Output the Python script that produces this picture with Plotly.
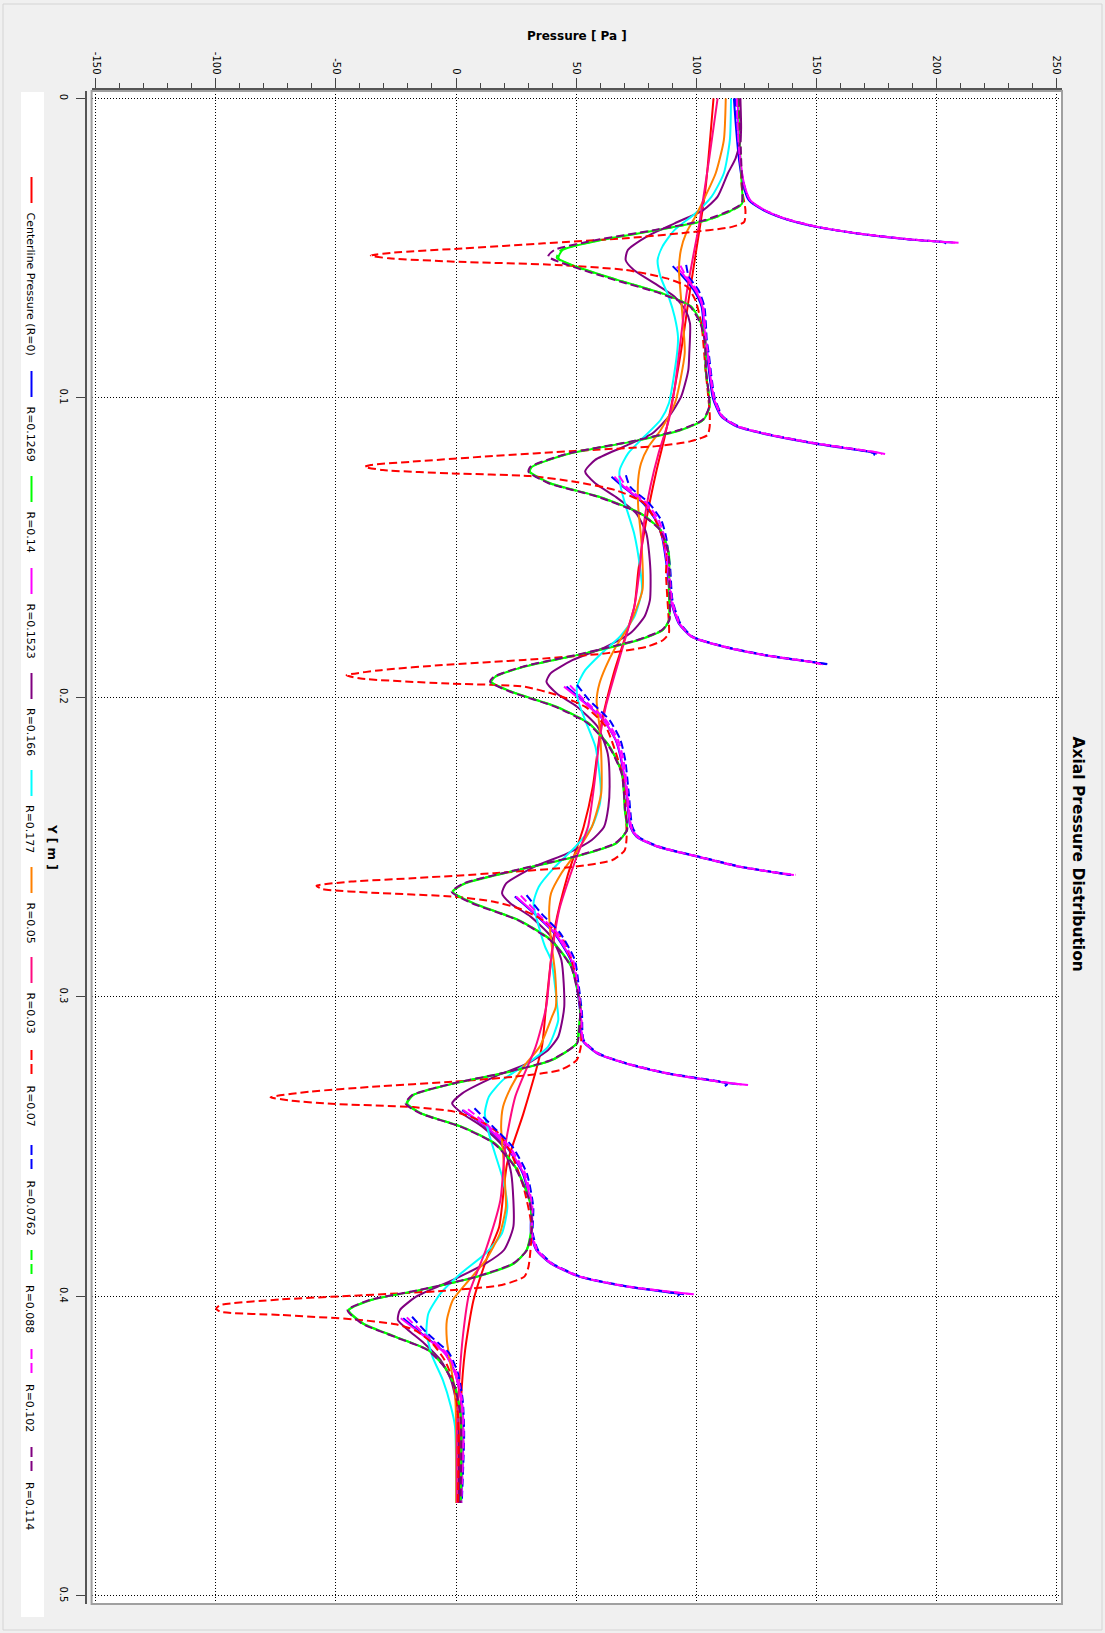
import plotly.graph_objects as go

# ---------------------------------------------------------------
# Axial pressure profiles: (Y [m], pressure [Pa]) pairs per radius.
# None separates line segments.
# ---------------------------------------------------------------
r_000 = [(0.0, 107.3), (0.0306, 103.9), (0.0528, 99.7), (0.0695, 96.5), (0.0807, 94.5), (0.0963, 91.2),
         (0.1129, 87.0), (0.1241, 83.6), (0.1408, 79.3), (0.1574, 76.0), (0.1697, 74.3), (0.192, 65.7),
         (0.2087, 60.6), (0.2298, 57.0), (0.2432, 53.2), (0.2598, 46.4), (0.2765, 41.3), (0.3033, 37.5),
         (0.3166, 35.8), (0.3389, 28.1), (0.3556, 21.3), (0.3767, 18.0), (0.3845, 14.1), (0.4012, 7.3),
         (0.4179, 3.8), (0.4346, 2.1), (0.469, 1.3)]

r_1269 = [(0.0, 115.8), (0.008, 116.5), (0.0195, 117.8), (0.0284, 119.5), (0.034, 122.0), (0.0373, 128.0),
          (0.0401, 136.5), (0.0429, 150.0), (0.0451, 167.0), (0.0471, 189.0), (0.0481, 207.0), None,
          (0.056, 90.3), (0.0595, 94.5), (0.064, 99.0), (0.0695, 102.3), (0.0807, 103.6), (0.0851, 104.5),
          (0.1, 107.0), (0.1062, 110.5), (0.1096, 117.0), (0.1124, 130.5), (0.1152, 149.0), (0.118, 172.0),
          (0.1186, 175.5), None,
          (0.1263, 64.8), (0.1296, 69.5), (0.1352, 78.0), (0.1408, 83.2), (0.1463, 85.8), (0.1574, 88.0),
          (0.1675, 89.4), (0.1753, 92.8), (0.1797, 98.0), (0.1831, 111.5), (0.1859, 128.5), (0.1881, 147.5),
          (0.1889, 154.5), None,
          (0.1964, 46.0), (0.2009, 52.5), (0.2076, 61.5), (0.2142, 66.5), (0.2209, 68.8), (0.232, 71.0),
          (0.2432, 72.6), (0.2465, 75.2), (0.2498, 83.7), (0.2532, 100.7), (0.2565, 117.7), (0.2587, 134.5),
          (0.2593, 139.5), None,
          (0.2665, 24.5), (0.2721, 32.5), (0.2788, 41.0), (0.2877, 47.8), (0.2966, 50.3), (0.3055, 51.8),
          (0.3144, 52.6), (0.3188, 58.6), (0.3222, 70.5), (0.3255, 87.5), (0.3283, 109.5), (0.3292, 117.5), None,
          (0.3378, 2.6), (0.3434, 12.5), (0.35, 21.0), (0.3589, 27.8), (0.3701, 31.2), (0.379, 31.2),
          (0.3845, 33.4), (0.389, 39.4), (0.3934, 51.3), (0.3968, 71.7), (0.3993, 95.0), None,
          (0.4073, -22.0), (0.4123, -14.5), (0.419, -4.5), (0.4257, -0.3), (0.4346, 2.2), (0.4457, 3.0),
          (0.469, 2.1)]

r_014 = [(0.0, 117.5), (0.01, 118.0), (0.02, 118.5), (0.0284, 119.0), (0.0351, 119.2), (0.0373, 115.0),
         (0.0406, 104.8), (0.0439, 84.4), (0.0473, 60.5), (0.0506, 44.4), (0.0534, 42.7), (0.0562, 50.3),
         (0.0606, 67.3), (0.0651, 86.0), (0.0695, 98.0), (0.0751, 102.2), (0.0807, 103.9), (0.0907, 104.0),
         (0.1029, 105.7), (0.1073, 103.1), (0.1107, 93.8), (0.1146, 73.4), (0.1185, 47.8), (0.123, 31.7),
         (0.1246, 30.8), (0.1285, 39.3), (0.133, 59.7), (0.1385, 76.8), (0.1441, 85.3), (0.1519, 88.7),
         (0.1641, 88.7), (0.1742, 88.7), (0.1775, 86.2), (0.1809, 75.9), (0.1853, 53.8), (0.1898, 28.3),
         (0.1931, 16.4), (0.1948, 14.7), (0.1981, 23.2), (0.2031, 41.9), (0.2087, 55.5), (0.2165, 64.1),
         (0.2254, 69.2), (0.2376, 70.3), (0.2443, 71.1), (0.2487, 66.9), (0.2532, 49.8), (0.2576, 26.0),
         (0.2621, 3.9), (0.2649, -1.2), (0.2687, 7.3), (0.2743, 26.0), (0.281, 39.6), (0.2899, 48.1),
         (0.3033, 51.9), (0.3111, 51.1), (0.3155, 50.3), (0.3211, 40.0), (0.3255, 19.6), (0.3289, -0.8),
         (0.3328, -17.8), (0.3356, -20.3), (0.3389, -14.4), (0.3434, 2.6), (0.3489, 16.2), (0.3567, 24.7),
         (0.3678, 30.7), (0.3767, 31.5), (0.3845, 29.4), (0.389, 24.3), (0.3934, 9.0), (0.3979, -14.9),
         (0.4012, -35.3), (0.4046, -44.6), (0.409, -38.7), (0.4135, -25.1), (0.4179, -11.5), (0.4235, -4.7),
         (0.4301, -0.4), (0.4401, 2.1), (0.469, 2.1)]

r_1523 = [(0.0, 117.5), (0.008, 117.5), (0.0195, 118.4), (0.0284, 120.0), (0.034, 122.6), (0.0373, 128.6),
          (0.0401, 137.0), (0.0429, 150.7), (0.0451, 167.7), (0.0471, 189.8), (0.0482, 209.4), None,
          (0.0562, 92.0), (0.0595, 95.4), (0.064, 99.7), (0.0695, 102.7), (0.0807, 103.9), (0.0851, 104.8),
          (0.1, 107.4), (0.1062, 110.8), (0.1096, 117.6), (0.1124, 131.2), (0.1152, 149.9), (0.118, 173.7),
          (0.1187, 178.8), None,
          (0.1263, 66.0), (0.1296, 69.9), (0.1352, 78.5), (0.1408, 83.5), (0.1463, 86.0), (0.1574, 88.3),
          (0.1675, 89.6), (0.1753, 93.0), (0.1797, 98.1), (0.1831, 111.7), (0.1859, 128.7), (0.1881, 147.4),
          (0.1889, 153.0), None,
          (0.1964, 45.0), (0.2009, 52.1), (0.2076, 61.5), (0.2142, 66.6), (0.2209, 69.0), (0.232, 71.1),
          (0.2432, 72.8), (0.2465, 75.4), (0.2498, 83.9), (0.2532, 100.9), (0.2565, 117.9), (0.2587, 134.9),
          (0.2593, 140.8), None,
          (0.2665, 25.0), (0.2721, 32.8), (0.2788, 41.3), (0.2877, 48.1), (0.2966, 50.5), (0.3055, 52.0),
          (0.3144, 52.8), (0.3188, 58.8), (0.3222, 70.7), (0.3255, 87.7), (0.3283, 109.8), (0.3294, 121.7), None,
          (0.3378, 3.0), (0.3434, 12.8), (0.35, 21.3), (0.3589, 28.1), (0.3701, 31.5), (0.379, 31.4),
          (0.3845, 33.6), (0.389, 39.6), (0.3934, 51.5), (0.3968, 71.9), (0.3993, 99.1), None,
          (0.4073, -23.0), (0.4123, -14.9), (0.419, -4.7), (0.4257, -0.4), (0.4346, 2.1), (0.4457, 3.0),
          (0.469, 2.0)]

r_0166 = [(0.0, 118.5), (0.01, 118.8), (0.0139, 118.5), (0.02, 116.5), (0.025, 113.3), (0.0328, 109.0),
          (0.0373, 103.0), (0.0417, 91.1), (0.0462, 79.3), (0.0506, 71.6), (0.054, 70.7), (0.0573, 74.1),
          (0.0617, 82.6), (0.0662, 91.1), (0.0706, 95.5), (0.0751, 97.5), (0.0851, 97.2), (0.0907, 96.8),
          (0.0996, 93.8), (0.1062, 88.7), (0.1118, 81.9), (0.1163, 69.9), (0.1207, 58.0), (0.1246, 53.8),
          (0.1285, 58.0), (0.133, 66.5), (0.1385, 75.0), (0.1452, 79.3), (0.1574, 81.0), (0.1675, 80.8),
          (0.1731, 78.5), (0.1786, 72.6), (0.1831, 62.4), (0.1875, 48.7), (0.192, 39.4), (0.1948, 37.7),
          (0.1987, 42.0), (0.2031, 50.4), (0.2098, 59.0), (0.2187, 63.2), (0.2298, 64.0), (0.2365, 63.5),
          (0.2432, 61.7), (0.2476, 56.6), (0.2521, 46.4), (0.2565, 32.8), (0.2621, 20.9), (0.2654, 19.2),
          (0.2687, 22.6), (0.2732, 31.1), (0.2799, 39.6), (0.2877, 43.9), (0.3033, 45.1), (0.3133, 42.6),
          (0.3177, 38.4), (0.3222, 29.8), (0.3266, 16.2), (0.3322, 2.6), (0.3356, -1.6), (0.3389, 2.6),
          (0.3434, 11.1), (0.35, 19.6), (0.3589, 23.0), (0.3767, 23.9), (0.3845, 20.0), (0.389, 12.4),
          (0.3945, -1.3), (0.4001, -16.6), (0.4046, -23.4), (0.4079, -24.2), (0.4112, -20.0), (0.4157, -13.2),
          (0.4213, -6.4), (0.4279, -2.1), (0.4368, 0.4), (0.469, 1.3)]

r_0177 = [(0.0, 114.6), (0.0139, 114.1), (0.025, 111.6), (0.0328, 106.5), (0.0384, 99.7), (0.0439, 91.1),
          (0.0495, 86.0), (0.054, 84.0), (0.0595, 85.2), (0.0662, 88.6), (0.0729, 91.1), (0.0796, 92.5),
          (0.0851, 92.1), (0.1018, 88.7), (0.1073, 85.3), (0.1129, 78.5), (0.1185, 71.7), (0.1241, 68.2),
          (0.1296, 68.6), (0.1363, 70.8), (0.1452, 74.2), (0.1574, 76.8), (0.1641, 77.5), (0.1731, 74.3),
          (0.1797, 68.3), (0.1853, 60.6), (0.1909, 53.8), (0.1964, 50.4), (0.2009, 50.8), (0.2076, 53.8),
          (0.2165, 58.1), (0.2298, 60.3), (0.2354, 60.0), (0.2432, 56.6), (0.2498, 49.8), (0.2565, 41.3),
          (0.2632, 34.5), (0.2687, 32.3), (0.2765, 34.5), (0.2832, 37.1), (0.2877, 39.6), (0.3033, 42.2),
          (0.3078, 42.6), (0.3166, 38.4), (0.3222, 29.8), (0.3277, 19.6), (0.3333, 13.7), (0.3389, 12.0),
          (0.3456, 13.7), (0.3522, 16.2), (0.3611, 19.6), (0.3701, 21.4), (0.379, 19.1), (0.3856, 12.4),
          (0.3923, 2.1), (0.399, -6.4), (0.4057, -11.5), (0.4123, -12.3), (0.4201, -9.8), (0.4279, -5.5),
          (0.4368, -2.1), (0.4435, -0.4), (0.469, 0.1)]

r_005 = [(0.0, 112.4), (0.0139, 111.6), (0.025, 108.2), (0.034, 103.1), (0.0395, 99.7), (0.045, 95.9),
         (0.0506, 93.7), (0.0573, 92.9), (0.0662, 93.7), (0.0751, 94.6), (0.0851, 95.3), (0.1018, 91.2),
         (0.1107, 85.3), (0.1163, 80.2), (0.1218, 77.1), (0.1274, 75.9), (0.1363, 75.9), (0.1474, 77.2),
         (0.1641, 77.7), (0.1753, 72.6), (0.1831, 66.6), (0.1898, 62.4), (0.1953, 59.8), (0.2009, 58.6),
         (0.2098, 59.8), (0.2209, 60.6), (0.232, 60.5), (0.2432, 56.6), (0.2521, 49.8), (0.2587, 43.9),
         (0.2654, 39.6), (0.2721, 38.8), (0.281, 39.6), (0.2921, 41.3), (0.3033, 41.6), (0.3066, 40.0),
         (0.3166, 34.9), (0.3233, 28.1), (0.33, 23.0), (0.3367, 19.6), (0.3434, 18.8), (0.3522, 19.6),
         (0.3634, 20.5), (0.3701, 20.8), (0.379, 18.3), (0.3879, 12.4), (0.3945, 5.5), (0.4012, -1.3),
         (0.4079, -3.8), (0.4146, -3.8), (0.4235, -2.1), (0.4324, -0.4), (0.4457, 0.1), (0.469, 0.1)]

r_003 = [(0.0, 109.0), (0.0195, 105.6), (0.0417, 101.4), (0.0528, 98.8), (0.064, 96.3), (0.074, 94.6),
         (0.0963, 91.2), (0.1073, 88.7), (0.1185, 84.4), (0.1296, 81.0), (0.1408, 78.5), (0.1574, 76.5),
         (0.1697, 74.3), (0.1864, 68.3), (0.2031, 62.4), (0.2142, 59.8), (0.2298, 57.5), (0.2432, 55.0),
         (0.2543, 49.8), (0.271, 43.0), (0.2877, 39.6), (0.3033, 37.6), (0.3166, 33.2), (0.3333, 24.7),
         (0.35, 20.5), (0.3678, 18.5), (0.3845, 12.4), (0.399, 5.5), (0.4123, 3.0), (0.429, 1.3),
         (0.4457, 0.4), (0.469, 0.4)]

r_007 = [(0.0, 117.5), (0.01, 118.0), (0.02, 118.5), (0.0306, 119.2), (0.0373, 120.6), (0.0412, 120.1),
         (0.0429, 115.0), (0.0448, 96.3), (0.0467, 70.7), (0.0484, 36.7), (0.0501, 2.7), (0.0515, -26.2),
         (0.0525, -35.5), (0.0534, -27.9), (0.0545, -0.7), (0.0556, 41.8), (0.0573, 70.7), (0.0601, 87.8),
         (0.0629, 96.3), (0.0673, 99.7), (0.0751, 102.2), (0.0907, 104.0), (0.1051, 105.7), (0.1096, 105.7),
         (0.1124, 104.8), (0.1146, 97.2), (0.1161, 83.6), (0.1177, 49.5), (0.1194, 15.5), (0.1213, -18.5),
         (0.1224, -35.5), (0.123, -38.0), (0.1241, -30.4), (0.1252, -1.5), (0.1261, 30.8), (0.128, 49.5),
         (0.1308, 66.5), (0.1352, 78.5), (0.143, 84.4), (0.1519, 87.8), (0.1586, 87.5), (0.1753, 88.7),
         (0.1786, 88.7), (0.1809, 86.2), (0.1831, 79.4), (0.1853, 62.4), (0.1875, 28.3), (0.1892, -5.7),
         (0.1909, -31.2), (0.1926, -45.6), (0.1937, -39.7), (0.1953, -5.7), (0.1964, 28.3), (0.1992, 42.0),
         (0.2031, 53.8), (0.2098, 62.4), (0.2254, 69.2), (0.232, 70.3), (0.2465, 71.1), (0.251, 70.3),
         (0.2543, 65.2), (0.2565, 49.8), (0.2587, 15.8), (0.2604, -18.2), (0.2615, -43.7), (0.2629, -58.1),
         (0.264, -55.6), (0.2652, -35.2), (0.2665, -1.2), (0.2682, 15.8), (0.2704, 26.0), (0.2743, 36.2),
         (0.281, 44.7), (0.2899, 49.0), (0.3033, 51.9), (0.3166, 52.0), (0.3211, 50.3), (0.3244, 43.5),
         (0.3266, 24.7), (0.3283, -0.8), (0.33, -34.8), (0.3316, -60.3), (0.3335, -77.3), (0.3346, -68.8),
         (0.3357, -51.8), (0.3368, -17.8), (0.3383, -0.8), (0.3411, 9.4), (0.3456, 17.9), (0.3522, 23.0),
         (0.3634, 28.1), (0.3767, 31.5), (0.3901, 30.2), (0.3934, 28.5), (0.3962, 19.1), (0.3981, -4.7),
         (0.3996, -38.7), (0.401, -72.7), (0.4029, -98.2), (0.404, -99.9), (0.4051, -98.2), (0.4062, -72.7),
         (0.4077, -42.1), (0.4093, -25.1), (0.4115, -16.6), (0.4157, -9.8), (0.4213, -4.7), (0.4279, -1.3),
         (0.439, 0.8), (0.469, 0.8)]

r_0762 = [(0.0, 116.5), (0.008, 117.0), (0.0195, 118.0), (0.0284, 119.8), (0.034, 122.3), (0.0373, 128.3),
          (0.0401, 136.8), (0.0429, 150.5), (0.0451, 167.5), (0.0471, 189.5), (0.0482, 204.0), (0.0489, 203.0),
          None,
          (0.0556, 95.9), (0.0595, 97.0), (0.064, 101.0), (0.0695, 103.5), (0.0807, 104.5), (0.0851, 105.3),
          (0.1, 107.8), (0.1062, 111.2), (0.1096, 118.0), (0.1124, 131.5), (0.1152, 150.2), (0.118, 172.5),
          (0.1186, 174.5), (0.1192, 174.0), None,
          (0.1258, 70.8), (0.1296, 72.5), (0.1352, 80.5), (0.1408, 85.5), (0.1463, 87.5), (0.1574, 89.3),
          (0.1675, 90.2), (0.1753, 93.5), (0.1797, 98.6), (0.1831, 112.2), (0.1859, 129.2), (0.1881, 148.0),
          (0.1889, 155.5), None,
          (0.1958, 50.4), (0.2009, 55.5), (0.2076, 64.0), (0.2142, 68.5), (0.2209, 70.5), (0.232, 72.0),
          (0.2432, 73.5), (0.2465, 76.0), (0.2498, 84.5), (0.2532, 101.5), (0.2565, 118.5), (0.2587, 135.5),
          (0.2593, 139.5), None,
          (0.266, 29.4), (0.2721, 35.5), (0.2788, 43.5), (0.2877, 49.5), (0.2966, 51.2), (0.3055, 52.5),
          (0.3144, 53.2), (0.3188, 59.2), (0.3222, 71.2), (0.3255, 88.2), (0.3283, 110.0), (0.3292, 113.0),
          (0.3298, 112.0), None,
          (0.3372, 7.7), (0.3434, 15.5), (0.35, 23.5), (0.3589, 29.5), (0.3701, 32.2), (0.379, 32.0),
          (0.3845, 34.2), (0.389, 40.2), (0.3934, 52.0), (0.3968, 72.5), (0.3993, 93.0), (0.3999, 92.5), None,
          (0.4068, -18.3), (0.4123, -12.0), (0.419, -2.8), (0.4257, 0.8), (0.4346, 2.8), (0.4457, 3.4),
          (0.469, 2.4)]

r_0088 = [(0.0, 117.8), (0.01, 118.2), (0.02, 118.6), (0.0284, 119.1), (0.0351, 119.4), (0.0373, 115.3),
          (0.0406, 105.0), (0.0439, 84.0), (0.0473, 60.0), (0.0506, 43.8), (0.0532, 42.0), (0.0562, 49.8),
          (0.0606, 67.0), (0.0651, 85.8), (0.0695, 97.8), (0.0751, 102.0), (0.0807, 103.8), (0.0907, 104.1),
          (0.1029, 105.6), (0.1073, 103.0), (0.1107, 93.5), (0.1146, 73.0), (0.1185, 47.5), (0.123, 31.4),
          (0.1246, 30.5), (0.1285, 39.0), (0.133, 59.5), (0.1385, 76.6), (0.1441, 85.2), (0.1519, 88.6),
          (0.1641, 88.8), (0.1742, 88.8), (0.1775, 86.0), (0.1809, 75.5), (0.1853, 53.5), (0.1898, 28.0),
          (0.1931, 16.2), (0.1948, 14.5), (0.1981, 23.0), (0.2031, 41.6), (0.2087, 55.3), (0.2165, 64.0),
          (0.2254, 69.1), (0.2376, 70.4), (0.2443, 71.2), (0.2487, 66.6), (0.2532, 49.5), (0.2576, 25.7),
          (0.2621, 3.6), (0.2649, -1.5), (0.2687, 7.0), (0.2743, 25.8), (0.281, 39.4), (0.2899, 48.0),
          (0.3033, 51.8), (0.3111, 51.2), (0.3155, 50.4), (0.3211, 39.8), (0.3255, 19.3), (0.3289, -1.0),
          (0.3328, -18.0), (0.3356, -20.6), (0.3389, -14.6), (0.3434, 2.4), (0.3489, 16.0), (0.3567, 24.6),
          (0.3678, 30.6), (0.3767, 31.6), (0.3845, 29.5), (0.389, 24.0), (0.3934, 8.8), (0.3979, -15.2),
          (0.4012, -35.6), (0.4046, -44.9), (0.409, -39.0), (0.4135, -25.3), (0.4179, -11.7), (0.4235, -4.8),
          (0.4301, -0.5), (0.4401, 2.0), (0.469, 2.0)]

r_0102 = [(0.0, 117.0), (0.008, 117.2), (0.0195, 118.2), (0.0284, 119.9), (0.034, 122.5), (0.0373, 128.5),
          (0.0401, 136.9), (0.0429, 150.6), (0.0451, 167.6), (0.0471, 189.6), (0.0482, 208.0), None,
          (0.0559, 93.5), (0.0595, 96.0), (0.064, 100.2), (0.0695, 103.0), (0.0807, 104.2), (0.0851, 105.0),
          (0.1, 107.6), (0.1062, 111.0), (0.1096, 117.8), (0.1124, 131.4), (0.1152, 150.0), (0.118, 173.8),
          (0.1187, 177.5), None,
          (0.126, 68.0), (0.1296, 71.0), (0.1352, 79.5), (0.1408, 84.5), (0.1463, 86.8), (0.1574, 88.8),
          (0.1675, 90.0), (0.1753, 93.2), (0.1797, 98.3), (0.1831, 111.9), (0.1859, 128.9), (0.1881, 147.6),
          (0.1889, 152.0), None,
          (0.196, 47.5), (0.2009, 53.5), (0.2076, 62.5), (0.2142, 67.5), (0.2209, 69.8), (0.232, 71.5),
          (0.2432, 73.1), (0.2465, 75.7), (0.2498, 84.2), (0.2532, 101.2), (0.2565, 118.2), (0.2587, 135.2),
          (0.2592, 141.5), None,
          (0.2662, 27.0), (0.2721, 34.0), (0.2788, 42.3), (0.2877, 48.8), (0.2966, 50.8), (0.3055, 52.2),
          (0.3144, 53.0), (0.3188, 59.0), (0.3222, 71.0), (0.3255, 88.0), (0.3283, 110.0), (0.3294, 121.0), None,
          (0.3375, 5.0), (0.3434, 14.0), (0.35, 22.3), (0.3589, 28.8), (0.3701, 31.8), (0.379, 31.7),
          (0.3845, 33.9), (0.389, 39.9), (0.3934, 51.8), (0.3968, 72.2), (0.3993, 98.5), None,
          (0.407, -20.5), (0.4123, -13.5), (0.419, -3.8), (0.4257, 0.2), (0.4346, 2.5), (0.4457, 3.2),
          (0.469, 2.2)]

r_0114 = [(0.0, 118.0), (0.01, 118.4), (0.02, 118.8), (0.0284, 119.2), (0.0351, 119.0), (0.0373, 114.5),
          (0.0406, 103.8), (0.0439, 83.0), (0.0473, 58.5), (0.0506, 41.0), (0.0528, 38.4), (0.0556, 46.5),
          (0.0606, 66.0), (0.0651, 85.0), (0.0695, 97.5), (0.0751, 101.8), (0.0807, 103.6), (0.0907, 104.2),
          (0.1029, 105.5), (0.1073, 102.8), (0.1107, 93.2), (0.1146, 72.6), (0.1185, 47.0), (0.123, 31.0),
          (0.1246, 30.2), (0.1285, 38.6), (0.133, 59.0), (0.1385, 76.3), (0.1441, 85.0), (0.1519, 88.5),
          (0.1641, 88.9), (0.1742, 88.9), (0.1775, 85.8), (0.1809, 75.2), (0.1853, 53.0), (0.1898, 27.5),
          (0.1931, 15.8), (0.1948, 14.2), (0.1981, 22.6), (0.2031, 41.2), (0.2087, 55.0), (0.2165, 63.8),
          (0.2254, 69.0), (0.2376, 70.5), (0.2443, 71.3), (0.2487, 66.3), (0.2532, 49.0), (0.2576, 25.2),
          (0.2621, 3.2), (0.2649, -1.8), (0.2687, 6.6), (0.2743, 25.5), (0.281, 39.2), (0.2899, 47.9),
          (0.3033, 51.7), (0.3111, 51.3), (0.3155, 50.5), (0.3211, 39.5), (0.3255, 19.0), (0.3289, -1.3),
          (0.3328, -18.3), (0.3356, -21.0), (0.3389, -14.9), (0.3434, 2.1), (0.3489, 15.8), (0.3567, 24.4),
          (0.3678, 30.5), (0.3767, 31.7), (0.3845, 29.6), (0.389, 23.8), (0.3934, 8.5), (0.3979, -15.5),
          (0.4012, -36.0), (0.4046, -45.2), (0.409, -39.3), (0.4135, -25.6), (0.4179, -11.9), (0.4235, -4.9),
          (0.4301, -0.6), (0.4401, 1.9), (0.469, 1.9)]

# legend labels, colours and dash styles (in drawing order)
series_names = ["Centerline Pressure (R=0)", "R=0.1269", "R=0.14", "R=0.1523", "R=0.166", "R=0.177",
                "R=0.05", "R=0.03", "R=0.07", "R=0.0762", "R=0.088", "R=0.102", "R=0.114"]
series_data = [r_000, r_1269, r_014, r_1523, r_0166, r_0177, r_005, r_003, r_007, r_0762, r_0088, r_0102, r_0114]
series_colors = ["#ff0000", "#0000ff", "#00ff00", "#ff00ff", "#800080", "#00ffff",
                 "#ff8000", "#ff0a80", "#ff0000", "#0000ff", "#00ff00", "#ff00ff", "#800080"]
series_dashed = [False, False, False, False, False, False, False, False, True, True, True, True, True]

pressure_ticks = [-150, -100, -50, 0, 50, 100, 150, 200, 250]
pressure_ticktext = ["-150", "-100", "-50", "0", "50", "100", "150", "200", "250"]
y_ticks = [0, 0.1, 0.2, 0.3, 0.4, 0.5]
y_ticktext = ["0", "0.1", "0.2", "0.3", "0.4", "0.5"]

# ---------------------------------------------------------------
# page geometry (pixels)
W, H = 1105, 1633
ML, MR, MT, MB = 86, 42, 89, 29
PW, PH = W - ML - MR, H - MT - MB


def px(x):
    return (x - ML) / PW


def py(y):
    return (H - MB - y) / PH


FONT = "DejaVu Sans"
DASH = "8px,4px"

fig = go.Figure()

for name, pts, col, dashed in zip(series_names, series_data, series_colors, series_dashed):
    ys = [None if p is None else p[0] for p in pts]
    ps = [None if p is None else p[1] for p in pts]
    fig.add_trace(go.Scatter(
        x=ps, y=ys, mode="lines", name=name, showlegend=False,
        connectgaps=False,
        line=dict(color=col, width=2, dash=DASH if dashed else "solid",
                  shape="spline", smoothing=0.6),
    ))

fig.update_layout(
    width=W, height=H,
    margin=dict(l=ML, r=MR, t=MT, b=MB, pad=0),
    paper_bgcolor="#f0f0f0",
    plot_bgcolor="#ffffff",
    font=dict(family=FONT, size=10, color="#000000"),
    xaxis=dict(
        domain=[px(91.6), px(1062)],
        anchor="free", position=1, side="top",
        range=[-151.83, 252.5],
        tickmode="array", tickvals=pressure_ticks, ticktext=pressure_ticktext,
        tickangle=90, tickfont=dict(family=FONT, size=10, color="#000"),
        ticks="outside", ticklen=10, tickwidth=1, tickcolor="#444",
        minor=dict(tickmode="linear", tick0=0, dtick=10, ticks="outside", ticklen=5,
                   tickcolor="#444", showgrid=False),
        showline=True, linecolor="#555555", linewidth=2,
        showgrid=True, gridcolor="#000000", gridwidth=1, griddash="1px,2px",
        zeroline=False,
    ),
    yaxis=dict(
        domain=[0, py(91)],
        anchor="free", position=0,
        range=[0.5027, -0.00247],
        tickmode="array", tickvals=y_ticks, ticktext=y_ticktext,
        tickangle=90, tickfont=dict(family=FONT, size=10, color="#000"),
        ticklabelstandoff=4,
        ticks="outside", ticklen=9, tickwidth=1, tickcolor="#444",
        showline=True, linecolor="#555555", linewidth=2,
        showgrid=True, gridcolor="#000000", gridwidth=1, griddash="1px,2px",
        zeroline=False,
    ),
)

shapes = []
# window border
shapes.append(dict(type="rect", xref="paper", yref="paper",
                   x0=px(3), x1=px(1102), y0=py(1630), y1=py(4),
                   line=dict(color="#d4d4d4", width=1), layer="below"))
# plot frame
shapes.append(dict(type="rect", xref="x domain", yref="y domain", x0=0, x1=1, y0=0, y1=1,
                   line=dict(color="#a0a0a0", width=2), layer="above"))
# legend panel
shapes.append(dict(type="rect", xref="paper", yref="paper",
                   x0=px(21), x1=px(44), y0=py(1617), y1=py(92),
                   fillcolor="#ffffff", line=dict(width=0), layer="below"))

annotations = []
legend_starts = [177, 371, 476, 568, 673, 770, 867, 957, 1050, 1145, 1250, 1349, 1447]
for name, col, dashed, s in zip(series_names, series_colors, series_dashed, legend_starts):
    shapes.append(dict(type="line", xref="paper", yref="paper",
                       x0=px(31.5), x1=px(31.5), y0=py(s), y1=py(s + 26),
                       line=dict(color=col, width=2, dash="10px,4px" if dashed else "solid")))
    annotations.append(dict(text=name, xref="paper", yref="paper", x=px(30), y=py(s + 33),
                            xanchor="center", yanchor="top", textangle=90, showarrow=False,
                            font=dict(family=FONT, size=11, color="#000")))

annotations.append(dict(text="<b>Axial Pressure Distribution</b>", xref="paper", yref="paper",
                        x=px(1077.5), y=py(854), xanchor="center", yanchor="middle",
                        textangle=90, showarrow=False,
                        font=dict(family=FONT, size=15.5, color="#000")))
annotations.append(dict(text="<b>Pressure [ Pa ]</b>", xref="paper", yref="paper",
                        x=px(577), y=py(36), xanchor="center", yanchor="middle",
                        showarrow=False, font=dict(family=FONT, size=12, color="#000")))
annotations.append(dict(text="<b>Y [ m ]</b>", xref="paper", yref="paper",
                        x=px(52), y=py(847), xanchor="center", yanchor="middle",
                        textangle=90, showarrow=False, font=dict(family=FONT, size=12, color="#000")))

fig.update_layout(shapes=shapes, annotations=annotations)

fig.write_html("out.html")
